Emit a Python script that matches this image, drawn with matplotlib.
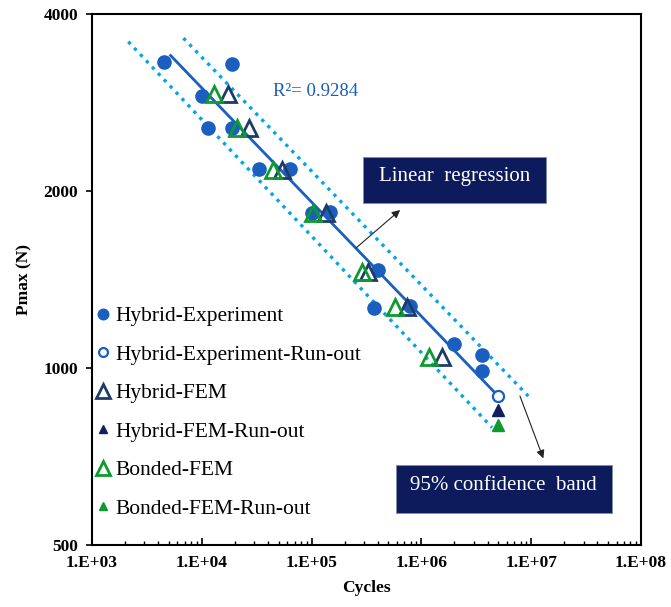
import numpy as np
import matplotlib
matplotlib.use("Agg")
import matplotlib.pyplot as plt
from matplotlib.ticker import FixedLocator, FuncFormatter, NullLocator, LogLocator
from matplotlib.patches import Rectangle

plt.rcParams['font.family'] = ['Liberation Serif', 'DejaVu Serif']

# data (cycles, Pmax in N)
exp_cycles = [4.5e3, 1.9e4, 1.0e4, 1.15e4, 1.9e4, 3.3e4, 6.3e4, 1.0e5, 1.47e5,
              4.05e5, 3.7e5, 7.9e5, 2.0e6, 3.6e6, 3.6e6]
exp_pmax = [3310, 3295, 2900, 2555, 2555, 2180, 2180, 1835, 1840,
            1468, 1265, 1275, 1100, 1052, 990]

exp_runout_cycles = [5.0e6]
exp_runout_pmax = [896]

hyb_fem_cycles = [1.74e4, 2.69e4, 5.4e4, 1.36e5, 3.28e5, 7.35e5, 1.53e6]
hyb_fem_pmax = [2925, 2557, 2172, 1835, 1458, 1268, 1045]

hyb_runout_cycles = [5.0e6]
hyb_runout_pmax = [850]

bond_fem_cycles = [1.29e4, 2.11e4, 4.48e4, 1.04e5, 2.86e5, 5.75e5, 1.17e6]
bond_fem_pmax = [2925, 2557, 2172, 1835, 1458, 1268, 1045]

bond_runout_cycles = [5.0e6]
bond_runout_pmax = [800]

# regression line and 95% band (end points)
reg_cycles = [5.2e3, 5.0e6]
reg_pmax = [3400, 896]
band_up_cycles = [6.8e3, 9.4e6]
band_up_pmax = [3640, 896]
band_lo_cycles = [2.14e3, 4.4e6]
band_lo_pmax = [3590, 792]

x_ticks = [1e3, 1e4, 1e5, 1e6, 1e7, 1e8]
y_ticks = [500, 1000, 2000, 4000]

blue = '#1A5EBF'
navy = '#1F3C68'
dark_navy = '#0F1F60'
green = '#0E9A2D'
light_blue = '#00A6E8'
box_color = '#0D1A5C'

fig = plt.figure(figsize=(6.71, 6.07), dpi=100)
ax = fig.add_axes([0.1371, 0.1021, 0.8182, 0.8748])

ax.plot(band_up_cycles, band_up_pmax, ls=(0, (1, 1.6)), lw=2.4, color=light_blue, zorder=1)
ax.plot(band_lo_cycles, band_lo_pmax, ls=(0, (1, 1.6)), lw=2.4, color=light_blue, zorder=1)
ax.plot(reg_cycles, reg_pmax, '-', lw=2.0, color=blue, zorder=2)

ax.plot(exp_cycles, exp_pmax, 'o', ms=9.5, color=blue, mec=blue, ls='none',
        label='Hybrid-Experiment', zorder=3)
ax.plot(exp_runout_cycles, exp_runout_pmax, 'o', ms=8, mfc='white', mec=blue, mew=1.6,
        ls='none', label='Hybrid-Experiment-Run-out', zorder=3)
ax.plot(hyb_fem_cycles, hyb_fem_pmax, '^', ms=12, mfc='none', mec=navy, mew=2.0,
        ls='none', label='Hybrid-FEM', zorder=4)
ax.plot(hyb_runout_cycles, hyb_runout_pmax, '^', ms=8, color=dark_navy, ls='none',
        label='Hybrid-FEM-Run-out', zorder=4)
ax.plot(bond_fem_cycles, bond_fem_pmax, '^', ms=12, mfc='none', mec=green, mew=2.0,
        ls='none', label='Bonded-FEM', zorder=5)
ax.plot(bond_runout_cycles, bond_runout_pmax, '^', ms=8, color=green, ls='none',
        label='Bonded-FEM-Run-out', zorder=5)

ax.set_xscale('log')
ax.set_yscale('log')
ax.set_xlim(1e3, 1e8)
ax.set_ylim(500, 4000)

ax.xaxis.set_major_locator(FixedLocator(x_ticks))
ax.xaxis.set_minor_locator(LogLocator(base=10, subs=np.arange(2, 10)))
ax.xaxis.set_major_formatter(FuncFormatter(lambda v, p: "1.E+%02d" % int(round(np.log10(v)))))
ax.yaxis.set_major_locator(FixedLocator(y_ticks))
ax.yaxis.set_minor_locator(NullLocator())
ax.yaxis.set_major_formatter(FuncFormatter(lambda v, p: "%d" % v))

ax.tick_params(axis='x', which='major', direction='in', length=5, width=1.2, pad=7,
               labelsize=12.5)
ax.tick_params(axis='x', which='minor', direction='in', length=3, width=1.0)
ax.tick_params(axis='y', which='major', direction='out', length=4, width=1.2, pad=6,
               labelsize=12.5)
for lab in ax.get_xticklabels() + ax.get_yticklabels():
    lab.set_fontweight('bold')
for sp in ax.spines.values():
    sp.set_linewidth(1.5)

ax.set_xlabel('Cycles', fontsize=12.5, fontweight='bold', labelpad=7)
ax.set_ylabel('Pmax (N)', fontsize=12.5, fontweight='bold', labelpad=8)

leg = ax.legend(loc='upper left', bbox_to_anchor=(95 / 671, 1 - 306 / 607),
                bbox_transform=fig.transFigure, frameon=False, fontsize=15.5,
                handlelength=0.75, handletextpad=0.2, labelspacing=0.86,
                borderpad=0, borderaxespad=0, markerscale=0.8, numpoints=1)

fig.text(273 / 671, 1 - 92 / 607, 'R\u00b2= 0.9284', color=blue, fontsize=13.5,
         ha='left', va='center')

# text boxes
fig.patches.append(Rectangle((362.7 / 671, 1 - 203.3 / 607), 183.3 / 671, 46.6 / 607,
                             transform=fig.transFigure, facecolor=box_color,
                             edgecolor='#7F8FA6', lw=0.6, zorder=6))
fig.text(454.5 / 671, 1 - 177 / 607, 'Linear  regression', color='white', fontsize=15,
         ha='center', va='center', zorder=7)
fig.patches.append(Rectangle((395.7 / 671, 1 - 513.3 / 607), 216.6 / 671, 48.3 / 607,
                             transform=fig.transFigure, facecolor=box_color,
                             edgecolor='#7F8FA6', lw=0.6, zorder=6))
fig.text(503.5 / 671, 1 - 486 / 607, '95% confidence  band', color='white', fontsize=15,
         ha='center', va='center', zorder=7)

ax.annotate('', xy=(6.4e5, 1857), xytext=(2.54e5, 1600),
            arrowprops=dict(arrowstyle='-|>', color='#222222', lw=0.8,
                            mutation_scale=12, shrinkA=0, shrinkB=0))
ax.annotate('', xy=(1.29e7, 702), xytext=(7.9e6, 896),
            arrowprops=dict(arrowstyle='-|>', color='#222222', lw=0.8,
                            mutation_scale=12, shrinkA=0, shrinkB=0))

fig.savefig('out.png', dpi=100)
